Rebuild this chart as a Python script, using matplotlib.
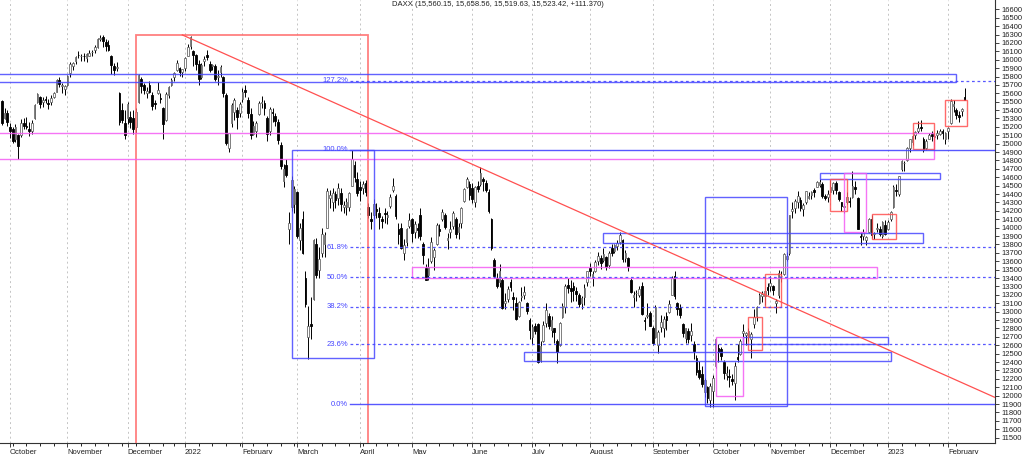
import numpy as np
import pandas as pd
import matplotlib
matplotlib.use("Agg")
import matplotlib.pyplot as plt
from matplotlib.patches import Rectangle

plt.rcParams["font.family"] = ["Liberation Sans", "DejaVu Sans"]

# trading days of Xetra, holidays taken out
holidays = ["2021-12-24", "2021-12-31", "2022-04-15", "2022-04-18", "2022-12-26"]
dates = pd.bdate_range("2021-09-28", "2023-02-09")
dates = dates[~dates.isin(pd.to_datetime(holidays))]

# daily DAX candles, one line per month (Sep 21 ... Feb 23)
opens = [
    15510, 15300, 15360,
    15200, 15170, 15050, 15100, 15100, 15250, 15210, 15170, 15150, 15300, 15500, 15560, 15500, 15530, 15480, 15500, 15560, 15620, 15760, 15690, 15650,
    15700, 15840, 15920, 15980, 16060, 16040, 16050, 16020, 16050, 16090, 16120, 16150, 16250, 16270, 16210, 16170, 16050, 15930, 15900, 15600, 15400, 15250,
    15300, 15320, 15300, 15200, 15500, 15770, 15700, 15600, 15700, 15580, 15480, 15600, 15550, 15420, 15280, 15580, 15700, 15800, 15880, 15900, 15850,
    15900, 16050, 16160, 16100, 16060, 15950, 15800, 15990, 16060, 15950, 15920, 15920, 15800, 15850, 15800, 15580, 14950, 15250, 15380, 15400, 15370,
    15530, 15640, 15520, 15350, 15120, 15150, 15350, 15490, 15480, 15300, 15150, 15380, 15330, 15260, 14990, 14550, 14750, 13980, 14250, 14280,
    14420, 13850, 14100, 13400, 12700, 12850, 13150, 13800, 13500, 13700, 13800, 14000, 14350, 14300, 14400, 14350, 14410, 14250, 14250, 14250, 14500, 14750, 14580,
    14480, 14470, 14530, 14250, 14100, 14150, 14220, 14170, 14100, 14170, 14130, 14260, 14450, 14380, 13980, 14000, 13700, 13830, 14020,
    14100, 13950, 14000, 14150, 13800, 13520, 13440, 13600, 13650, 13800, 13990, 14100, 14150, 13850, 13950, 14020, 14100, 13950, 14050, 14320, 14490, 14520,
    14470, 14300, 14500, 14520, 14580, 14530, 14420, 14100, 13620, 13400, 13350, 13380, 13100, 13150, 13350, 13180, 13100, 12950, 13180, 13200, 13100, 12900,
    12700, 12830, 12850, 12420, 12650, 12860, 12950, 12780, 12800, 12650, 12600, 12940, 13050, 13320, 13280, 13300, 13250, 13200, 13100, 13180, 13350,
    13520, 13400, 13480, 13600, 13640, 13620, 13650, 13550, 13760, 13720, 13780, 13830, 13850, 13640, 13640, 13380, 13180, 13220, 13200, 13300, 12900, 12950, 12980,
    12800, 12700, 12600, 12820, 12800, 12950, 13000, 13200, 13420, 13100, 13040, 12850, 12690, 12770, 12720, 12620, 12450, 12300, 12260, 12040, 12100, 11950,
    12050, 12350, 12570, 12560, 12400, 12250, 12230, 12200, 12150, 12460, 12500, 12750, 12720, 12700, 12680, 12850, 12950, 13100, 13190, 13190, 13290,
    13300, 13300, 13100, 13200, 13420, 13450, 13630, 13700, 14200, 14230, 14300, 14330, 14220, 14300, 14350, 14390, 14450, 14490, 14510, 14520, 14380, 14370,
    14430, 14450, 14530, 14430, 14300, 14250, 14300, 14320, 14360, 14490, 14350, 13900, 13900, 13850, 13950, 14100, 13920, 13990, 13990, 13900, 14030,
    13990, 14100, 14250, 14450, 14400, 14700, 14770, 14800, 14950, 15020, 15100, 15150, 15200, 15050, 14950, 15060, 15110, 15080, 15100, 15120, 15150, 15060,
    15150, 15250, 15450, 15400, 15340, 15390, 15560,
]
highs = [
    15520, 15420, 15400,
    15250, 15200, 15230, 15110, 15290, 15310, 15320, 15260, 15280, 15470, 15600, 15570, 15560, 15570, 15530, 15580, 15620, 15770, 15790, 15720, 15700,
    15820, 15970, 15970, 16040, 16100, 16070, 16080, 16080, 16110, 16120, 16170, 16260, 16290, 16290, 16250, 16230, 16060, 15960, 15970, 15620, 15490, 15400,
    15500, 15390, 15400, 15420, 15830, 15790, 15720, 15670, 15750, 15620, 15520, 15740, 15600, 15440, 15620, 15690, 15780, 15850, 16000, 15910, 15890,
    16030, 16190, 16285, 16120, 16070, 16000, 15960, 16050, 16110, 15980, 15950, 15950, 15880, 15940, 15810, 15600, 15130, 15480, 15540, 15440, 15500,
    15660, 15700, 15560, 15420, 15270, 15270, 15510, 15570, 15520, 15330, 15440, 15420, 15370, 15290, 15020, 14760, 14820, 14190, 14620, 14500,
    14440, 14050, 14200, 13480, 13070, 13170, 13870, 13880, 13770, 14000, 13950, 14470, 14450, 14470, 14440, 14530, 14470, 14320, 14350, 14430, 14925, 14790, 14660,
    14560, 14560, 14570, 14290, 14190, 14340, 14290, 14250, 14140, 14230, 14200, 14400, 14590, 14400, 14050, 14050, 13860, 14000, 14170,
    14110, 14080, 14050, 14230, 13830, 13570, 13640, 13890, 13760, 14050, 14040, 14220, 14180, 13940, 14080, 14200, 14130, 14050, 14250, 14470, 14600, 14560,
    14530, 14500, 14560, 14720, 14600, 14570, 14460, 14120, 13640, 13460, 13570, 13400, 13220, 13310, 13390, 13230, 13180, 13130, 13290, 13300, 13120, 12930,
    12850, 12860, 12870, 12650, 12890, 13100, 12980, 12950, 12810, 12670, 12880, 13100, 13330, 13400, 13380, 13350, 13290, 13220, 13190, 13330, 13490,
    13580, 13480, 13620, 13710, 13670, 13760, 13660, 13720, 13800, 13800, 13850, 13950, 13870, 13730, 13650, 13400, 13250, 13260, 13300, 13350, 12940, 13100, 13010,
    12830, 13080, 12780, 12960, 12950, 13000, 13140, 13420, 13480, 13120, 13090, 12860, 12810, 12800, 12860, 12650, 12480, 12410, 12350, 12210, 12120, 12150,
    12250, 12690, 12610, 12580, 12420, 12350, 12320, 12260, 12400, 12620, 12680, 12850, 12760, 12800, 12760, 13030, 13070, 13220, 13250, 13250, 13340,
    13420, 13320, 13150, 13500, 13480, 13700, 13710, 14150, 14300, 14340, 14440, 14360, 14290, 14440, 14420, 14440, 14470, 14560, 14580, 14540, 14400, 14450,
    14570, 14540, 14550, 14440, 14310, 14290, 14420, 14360, 14670, 14550, 14370, 13950, 13990, 13900, 14120, 14150, 13950, 14060, 14020, 14080, 14090,
    14090, 14200, 14510, 14520, 14620, 14800, 14790, 14960, 15060, 15100, 15150, 15270, 15280, 15080, 15050, 15130, 15150, 15120, 15160, 15180, 15170, 15140,
    15200, 15530, 15520, 15430, 15390, 15420, 15659,
]
lows = [
    15220, 15290, 15210,
    15070, 15010, 15020, 14820, 15080, 15180, 15170, 15090, 15120, 15290, 15480, 15420, 15440, 15480, 15410, 15460, 15540, 15610, 15680, 15600, 15580,
    15690, 15790, 15880, 15950, 16020, 15990, 15990, 15970, 16040, 16050, 16080, 16140, 16220, 16150, 16100, 16100, 15830, 15820, 15870, 15220, 15250, 15050,
    15240, 15190, 15120, 15130, 15490, 15600, 15590, 15550, 15600, 15400, 15410, 15590, 15480, 15060, 15270, 15550, 15690, 15750, 15870, 15810, 15790,
    15860, 16040, 16130, 15920, 15880, 15700, 15770, 15930, 16000, 15850, 15880, 15750, 15700, 15800, 15560, 14990, 14900, 15200, 15280, 15170, 15320,
    15500, 15560, 15300, 15050, 15100, 15080, 15340, 15420, 15340, 15030, 15100, 15260, 15210, 15000, 14700, 14480, 14600, 13810, 14200, 14170,
    13880, 13730, 13690, 13060, 12440, 12670, 13140, 13400, 13400, 13650, 13650, 14000, 14240, 14200, 14240, 14270, 14200, 14170, 14150, 14200, 14500, 14540, 14380,
    14320, 14400, 14380, 14110, 13990, 14100, 14110, 13990, 14000, 14060, 14040, 14230, 14430, 14100, 13800, 13750, 13620, 13780, 14000,
    13830, 13880, 13880, 13850, 13570, 13380, 13380, 13580, 13500, 13790, 13900, 14080, 13990, 13750, 13880, 13990, 13880, 13860, 14000, 14300, 14470, 14330,
    14290, 14250, 14420, 14500, 14440, 14420, 14180, 13740, 13400, 13280, 13290, 13030, 13030, 13120, 13240, 13020, 12900, 12940, 13130, 13150, 12970, 12670,
    12620, 12730, 12390, 12400, 12640, 12820, 12790, 12700, 12630, 12390, 12590, 12920, 12980, 13220, 13120, 13130, 13130, 13050, 13030, 13080, 13300,
    13420, 13300, 13470, 13560, 13510, 13590, 13500, 13520, 13660, 13700, 13740, 13800, 13590, 13590, 13490, 13220, 13050, 13130, 13170, 12960, 12780, 12930, 12830,
    12600, 12690, 12510, 12760, 12700, 12780, 12980, 13200, 13150, 12960, 12930, 12700, 12630, 12630, 12650, 12440, 12250, 12200, 12100, 11980, 11910, 11860,
    11860, 12330, 12400, 12430, 12200, 12190, 12100, 12130, 11950, 12400, 12480, 12650, 12600, 12650, 12450, 12800, 12890, 13090, 13120, 13080, 13200,
    13250, 13200, 12980, 13160, 13350, 13440, 13600, 13680, 14120, 14170, 14230, 14200, 14140, 14280, 14340, 14340, 14360, 14480, 14490, 14350, 14330, 14310,
    14420, 14400, 14400, 14320, 14200, 14180, 14280, 14250, 14350, 14400, 13980, 13790, 13850, 13790, 13940, 13880, 13860, 13950, 13900, 13880, 13910,
    13970, 14080, 14240, 14380, 14380, 14680, 14680, 14790, 14900, 14980, 15050, 15130, 15150, 14900, 14930, 15050, 15030, 14980, 15060, 15100, 15060, 15000,
    15050, 15240, 15380, 15290, 15260, 15330, 15520,
]
closes = [
    15249, 15365, 15260,
    15156, 15036, 15195, 14973, 15252, 15206, 15199, 15147, 15250, 15463, 15587, 15474, 15516, 15522, 15472, 15543, 15599, 15757, 15705, 15696, 15689,
    15806, 15954, 15959, 16030, 16054, 16046, 16040, 16067, 16083, 16094, 16148, 16247, 16251, 16221, 16160, 16115, 15937, 15878, 15917, 15257, 15280, 15100,
    15472, 15263, 15170, 15380, 15813, 15687, 15639, 15623, 15621, 15454, 15476, 15636, 15531, 15240, 15593, 15676, 15756, 15836, 15964, 15852, 15885,
    16020, 16152, 16271, 16052, 15947, 15768, 15942, 16010, 16031, 15883, 15933, 15772, 15810, 15912, 15603, 15011, 15123, 15460, 15524, 15318, 15471,
    15619, 15613, 15368, 15100, 15206, 15242, 15482, 15490, 15425, 15113, 15412, 15370, 15267, 15042, 14731, 14693, 14631, 14052, 14567, 14461,
    13905, 14000, 13698, 13094, 12834, 12831, 13848, 13442, 13628, 13929, 13917, 14440, 14388, 14413, 14326, 14473, 14283, 14274, 14305, 14417, 14820, 14606, 14414,
    14446, 14518, 14424, 14152, 14078, 14283, 14193, 14124, 14076, 14164, 14153, 14362, 14502, 14142, 13924, 13757, 13795, 13979, 14097,
    13940, 14040, 13970, 13902, 13674, 13380, 13535, 13828, 13739, 14027, 13964, 14186, 14008, 13882, 13982, 14175, 13920, 14008, 14231, 14462, 14575, 14388,
    14340, 14485, 14460, 14653, 14556, 14445, 14199, 13762, 13427, 13304, 13483, 13038, 13126, 13265, 13292, 13145, 12912, 13118, 13186, 13232, 13003, 12784,
    12813, 12773, 12401, 12595, 12843, 13015, 12832, 12905, 12756, 12519, 12865, 13071, 13308, 13282, 13246, 13254, 13210, 13097, 13166, 13282, 13484,
    13479, 13449, 13587, 13662, 13574, 13687, 13534, 13700, 13694, 13795, 13816, 13910, 13626, 13697, 13544, 13230, 13194, 13220, 13271, 12971, 12893, 12961, 12835,
    12630, 13050, 12761, 12871, 12916, 12904, 13088, 13403, 13189, 13028, 12956, 12741, 12803, 12671, 12767, 12531, 12284, 12227, 12140, 12183, 11976, 12114,
    12209, 12670, 12517, 12471, 12273, 12272, 12219, 12172, 12355, 12437, 12649, 12765, 12741, 12767, 12731, 12931, 13052, 13195, 13211, 13243, 13253,
    13339, 13256, 13130, 13460, 13428, 13688, 13667, 14146, 14224, 14313, 14379, 14234, 14266, 14431, 14380, 14423, 14428, 14539, 14541, 14383, 14355, 14397,
    14490, 14529, 14448, 14343, 14261, 14264, 14371, 14307, 14498, 14460, 13987, 13893, 13943, 13884, 14098, 13914, 13940, 13995, 13925, 14071, 13924,
    14069, 14181, 14490, 14436, 14610, 14792, 14774, 14948, 15058, 15086, 15134, 15187, 15181, 14920, 15033, 15103, 15094, 15081, 15132, 15150, 15126, 15128,
    15181, 15509, 15476, 15345, 15320, 15412, 15523,
]

# fibonacci retracement
fib_low, fib_high = 11900, 14925
fib_ratios = [0.0, 0.236, 0.382, 0.5, 0.618, 1.0, 1.272]
fib_labels = ["0.0%", "23.6%", "38.2%", "50.0%", "61.8%", "100.0%", "127.2%"]
fib_solid = [True, False, False, False, False, True, False]
fib_from = "2022-03-28"

# drawn boxes ("" = starts left of the chart)
box_start = ["2021-12-06", "", "", "2022-02-25", "2022-09-28", "2022-06-28", "2022-10-18", "2022-05-02", "2022-08-08",
             "2022-11-25", "2023-01-31", "2023-01-13", "2022-12-22", "2022-12-01", "2022-12-08", "2022-10-28", "2022-10-20", "2022-10-04"]
box_end = ["2022-04-06", "2023-02-06", "2023-01-25", "2022-04-08", "2022-11-09", "2023-01-03", "2023-01-02", "2022-12-27", "2023-01-19",
           "2023-01-27", "2023-02-10", "2023-01-25", "2023-01-05", "2022-12-09", "2022-12-20", "2022-11-07", "2022-10-27", "2022-10-18"]
box_low = [11000, 15740, 14812, 12450, 11880, 12413, 12615, 13400, 13818,
           14580, 15210, 14935, 13866, 14199, 13950, 13057, 12545, 11995]
box_high = [16295, 15832, 15122, 14925, 14365, 12520, 12698, 13535, 13937,
            14652, 15520, 15250, 14163, 14580, 14652, 13450, 12938, 12698]
box_kind = ["bigred", "blue", "pink", "blue", "blue", "blue", "blue", "pink", "blue",
            "blue", "red", "red", "red", "red", "pink", "red", "red", "pink"]

# trend line from the january top
trend_dates = ["2021-12-30", "2022-10-26"]
trend_prices = [16295, 13230]

title = "DAXX (15,560.15, 15,658.56, 15,519.63, 15,523.42, +111.370)"

BLUE = "#4646ff"
PINK = "#f45cf4"
RED = "#ff5050"
styles = {
    "blue": dict(edgecolor=BLUE, lw=1.0),
    "pink": dict(edgecolor=PINK, lw=1.0),
    "red": dict(edgecolor=RED, lw=1.0),
    "bigred": dict(edgecolor="#ff6a6a", lw=1.3),
}

x_left, x_right = -0.66, 363.15


def pos(d):
    if d == "":
        return x_left - 5
    return int(dates.searchsorted(pd.Timestamp(d)))


o = np.array(opens, dtype=float)
h = np.array(highs, dtype=float)
l = np.array(lows, dtype=float)
c = np.array(closes, dtype=float)
x = np.arange(len(dates))

fig = plt.figure(figsize=(10.24, 4.54), dpi=100)
ax = fig.add_axes([0, 11 / 454, 995 / 1024, 443 / 454])
ax.set_xlim(x_left, x_right)
ax.set_ylim(11436, 16711)

# month grid
month_starts = [i for i in range(1, len(dates)) if dates[i].month != dates[i - 1].month]
week_starts = [i for i in range(1, len(dates)) if dates[i].weekday() < dates[i - 1].weekday()]
for m in month_starts:
    ax.axvline(m, color="#c4c4c4", lw=0.7, ls=(0, (2, 3)), zorder=1)

# candles
up = c >= o
body = np.maximum(np.abs(c - o), 6)
ax.vlines(x, l, h, color="black", lw=0.7, zorder=3)
ax.bar(x[up], body[up], bottom=o[up], width=0.62, color="white", edgecolor="#6a6a6a", lw=0.6, zorder=4)
ax.bar(x[~up], body[~up], bottom=c[~up], width=0.62, color="black", edgecolor="black", lw=0.6, zorder=4)

# boxes
for s, e, lo, hi, k in zip(box_start, box_end, box_low, box_high, box_kind):
    x0, x1 = pos(s), pos(e)
    ax.add_patch(Rectangle((x0, lo), x1 - x0, hi - lo, fill=False, alpha=0.85, zorder=5, **styles[k]))

# trend line, carried on to the right edge
tx0, tx1 = pos(trend_dates[0]), pos(trend_dates[1])
slope = (trend_prices[1] - trend_prices[0]) / (tx1 - tx0)
ax.plot([tx0, x_right], [trend_prices[0], trend_prices[0] + slope * (x_right - tx0)],
        color=RED, lw=0.9, zorder=5)

# fibonacci levels
fx = pos(fib_from)
for r, lab, solid in zip(fib_ratios, fib_labels, fib_solid):
    lvl = fib_low + r * (fib_high - fib_low)
    ax.plot([fx + 0.4, x_right], [lvl, lvl], color=BLUE, lw=1.0 if solid else 0.9,
            ls="-" if solid else (0, (2.2, 2.2)), zorder=5, alpha=0.9)
    ax.text(fx - 0.4, lvl, lab, color=BLUE, fontsize=5.5, ha="right", va="center", zorder=6)

ax.text(0.5, 1 - 5 / 443, title, transform=ax.transAxes, ha="center", va="center",
        fontsize=5.5, color="#222222")

# axes
ax.spines["top"].set_visible(False)
ax.spines["left"].set_visible(False)
ax.spines["right"].set_color("#333333")
ax.spines["bottom"].set_color("#333333")
ax.spines["right"].set_linewidth(0.8)
ax.spines["bottom"].set_linewidth(0.8)

ax.yaxis.tick_right()
ax.set_yticks(np.arange(11500, 16601, 100))
ax.tick_params(axis="y", length=3, width=0.6, labelsize=5.5, pad=1.5, colors="#222222")

labels = [str(dates[m].year) if dates[m].month == 1 else dates[m].strftime("%B") for m in month_starts]
ax.set_xticks(month_starts)
ax.set_xticklabels(labels, ha="left")
ax.set_xticks(week_starts, minor=True)
ax.tick_params(axis="x", which="major", length=3, width=0.6, labelsize=5.5, pad=1, colors="#222222")
ax.tick_params(axis="x", which="minor", length=2.5, width=0.6)

fig.savefig("out.png", dpi=100)
